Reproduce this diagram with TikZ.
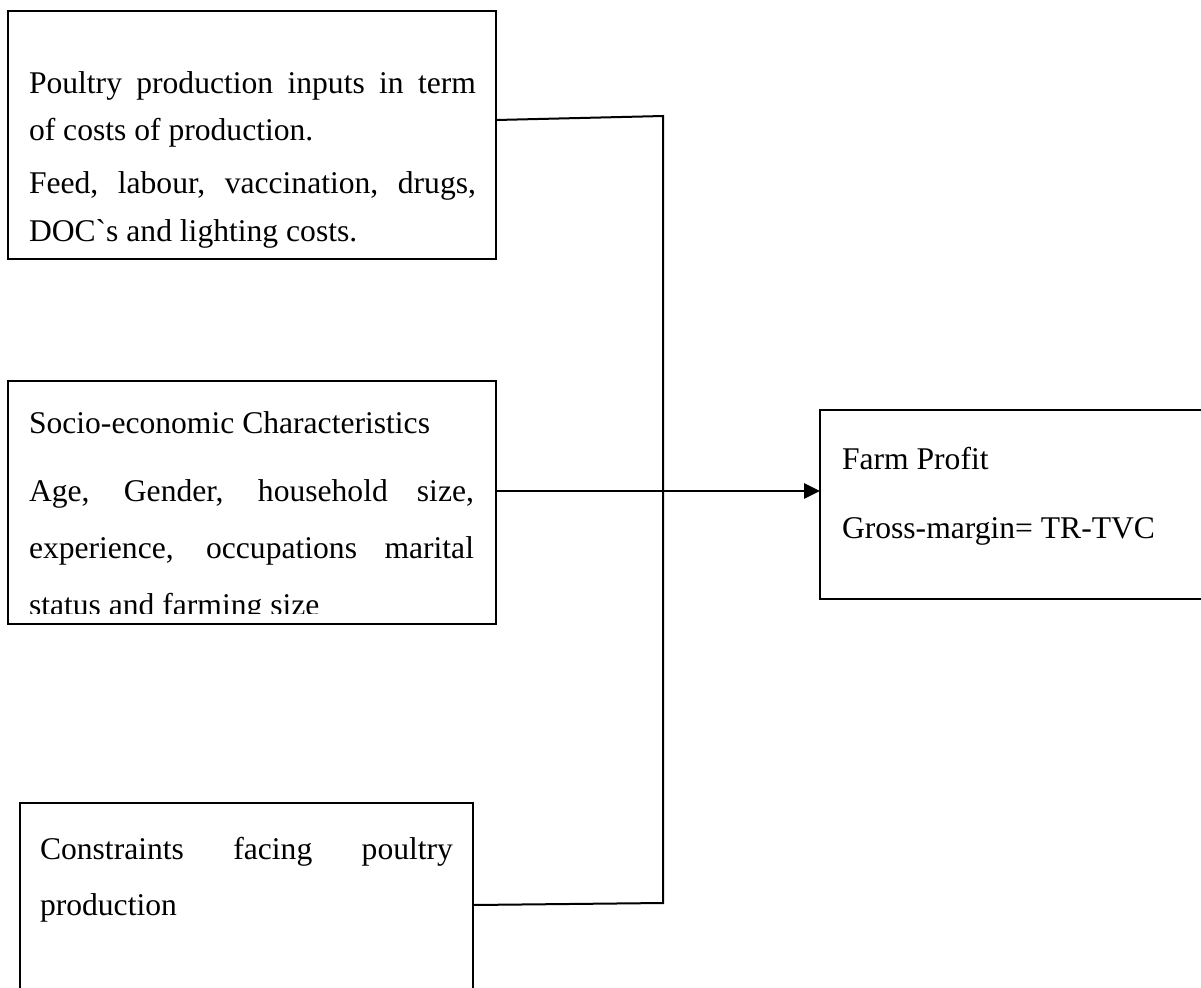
\documentclass[tikz,border=0pt]{standalone}
\usepackage{fontspec}
\newfontfamily\tnr{Liberation Serif}
\usetikzlibrary{arrows.meta}
\begin{document}
\begin{tikzpicture}[x=0.5pt,y=-0.5pt,
  box/.style={draw, line width=1pt, anchor=north west, inner sep=0pt, outer sep=0pt},
  txt/.style={anchor=base west, inner sep=0pt, outer sep=0pt, font=\tnr\fontsize{15.8}{18}\selectfont},
  link/.style={line width=1pt},
  arr/.style={line width=1.4pt, -{Triangle[length=8pt,width=7.5pt]}}]
\useasboundingbox (0,0) rectangle (1201,987);
\clip (0,0) rectangle (1201,987);
% boxes
\node[box, minimum width=244pt, minimum height=124pt] (b1) at (8,11) {};
\node[box, minimum width=244pt, minimum height=121.5pt] (b2) at (8,381) {};
\node[box, minimum width=226.5pt, minimum height=103.5pt] (b3) at (20,803) {};
\node[box, minimum width=210pt, minimum height=94.5pt] (b4) at (820,410) {};
% box 1 text
\node[txt] (t1a) at (29,93) {\makebox[223.5pt][s]{Poultry production inputs in term}};
\node[txt] (t1b) at (29,140) {of costs of production.};
\node[txt] (t1c) at (29,193) {\makebox[223.5pt][s]{Feed, labour, vaccination, drugs,}};
\node[txt] (t1d) at (29,241) {DOC`s and lighting costs.};
% box 2 text
\node[txt] (t2a) at (29,433) {Socio-economic Characteristics};
\node[txt] (t2b) at (29,501) {\makebox[222.5pt][s]{Age, Gender, household size,}};
\node[txt] (t2c) at (29,558) {\makebox[222.5pt][s]{experience, occupations marital}};
\begin{scope}
  \clip (8,381) rectangle (496,613);
  \node[txt] (t2d) at (29,615) {status and farming size};
\end{scope}
% box 3 text
\node[txt] (t3a) at (40,859) {\makebox[206.5pt][s]{Constraints facing poultry}};
\node[txt] (t3b) at (40,915) {production};
% box 4 text
\node[txt] (t4a) at (842,469) {Farm Profit};
\node[txt] (t4b) at (842,538) {Gross-margin= TR-TVC};
% connectors
\coordinate (p1) at (496,120);
\coordinate (p2) at (496,491);
\coordinate (p3) at (473,905);
\coordinate (j1) at (663,116);
\coordinate (j2) at (663,491);
\coordinate (j3) at (663,903);
\draw[link] (p1) -- (j1) -- (j3) -- (p3);
\draw[link] (p2) -- (j2);
\draw[arr] (j2) -- (j2 -| b4.west);
\end{tikzpicture}
\end{document}
